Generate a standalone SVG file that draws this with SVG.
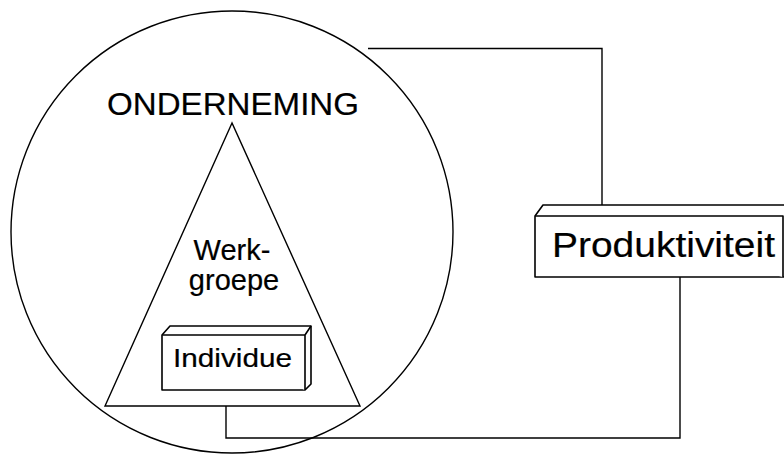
<svg xmlns="http://www.w3.org/2000/svg" width="784" height="455" viewBox="0 0 784 455">
<style>
.s{fill:none;stroke:#000;stroke-width:1.4;stroke-linejoin:miter}
.b{fill:#fff;stroke:#000;stroke-width:1.6;stroke-linejoin:round}
.t{font-family:"Liberation Sans",Arial,sans-serif;fill:#000;stroke:#000;stroke-width:0.2}
</style>
<rect width="784" height="455" fill="#fff"/>
<g id="connectors">
<path class="s" d="M368,48.5 H602 V205"/>
<path class="s" d="M226,406 V438 H680 V277"/>
</g>
<g id="onderneming">
<circle class="s" cx="232" cy="232" r="221"/>
<text class="t" x="107" y="115" font-size="32" textLength="252" lengthAdjust="spacingAndGlyphs">ONDERNEMING</text>
</g>
<g id="werkgroepe">
<path class="s" d="M232,123 L105,406 H360 Z"/>
<text class="t" x="232" y="260" font-size="29" text-anchor="middle">Werk-</text>
<text class="t" x="234" y="290" font-size="29" text-anchor="middle">groepe</text>
</g>
<g id="individue">
<path class="b" d="M162,335 L170,326 H311 V384 L305,390 H162 Z"/>
<path class="b" d="M162,335 H305 V390 M305,335 L311,326"/>
<text class="t" x="173" y="367" font-size="26" textLength="119" lengthAdjust="spacingAndGlyphs">Individue</text>
</g>
<g id="produktiviteit">
<path class="b" d="M535,216 L543,205 H790 V277 H535 Z"/>
<path class="b" d="M535,216 H783 V277"/>
<text class="t" x="552" y="257" font-size="35" textLength="223" lengthAdjust="spacingAndGlyphs">Produktiviteit</text>
</g>
</svg>
